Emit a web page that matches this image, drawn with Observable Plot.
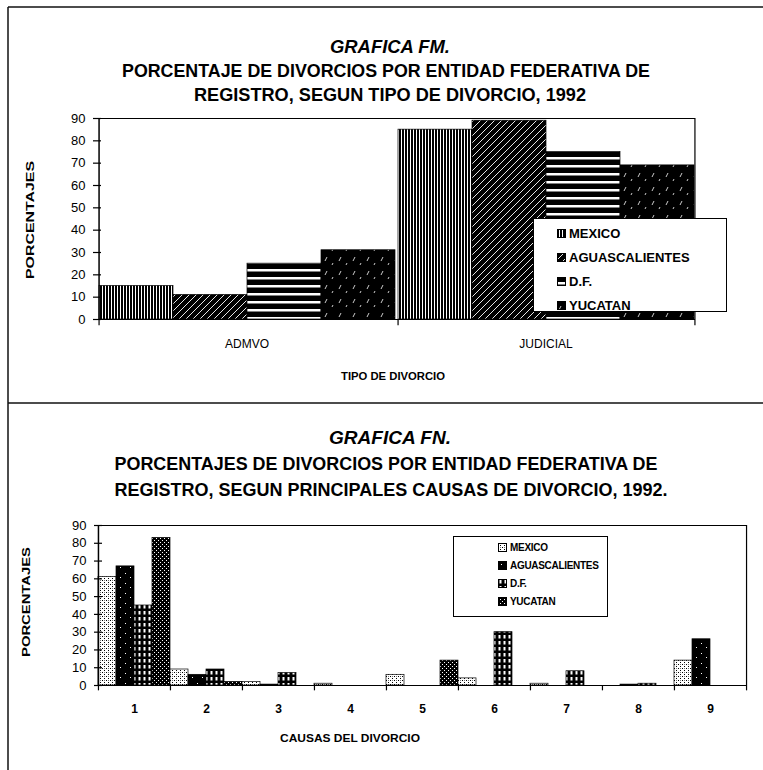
<!DOCTYPE html>
<html><head><meta charset="utf-8">
<script src="https://cdn.jsdelivr.net/npm/d3@7"></script>
<script src="https://cdn.jsdelivr.net/npm/@observablehq/plot@0.6"></script>
<style>
body{margin:0;background:#fff;}
#page{position:relative;width:763px;height:770px;overflow:hidden;background:#fff;}
.chart{position:absolute;left:0;}
.legend{position:absolute;background:#fff;border:1px solid #000;box-sizing:border-box;}
.legend .item{position:absolute;display:flex;align-items:center;font-weight:bold;white-space:nowrap;color:#000;}
.legend .item svg{margin-right:3px;flex:none;}
#overlay{position:absolute;left:0;top:0;pointer-events:none;}
</style></head><body><div id="page"></div>
<script>
// ---------------- DATA ----------------
const tipos = ["ADMVO", "JUDICIAL"];
const entidades = ["MEXICO", "AGUASCALIENTES", "D.F.", "YUCATAN"];
const admvo = [15, 11, 25, 31];
const judicial = [85, 89, 75, 69];
const causas = ["1", "2", "3", "4", "5", "6", "7", "8", "9"];
const mexico = [61, 9, 2, 1, 6, 4, 1, 0, 14];
const aguascalientes = [67, 6, 0.5, 0, 0, 0, 0, 0.5, 26];
const df = [45, 9, 7, 0, 0, 30, 8, 1, 0];
const yucatan = [83, 2, 0, 0, 14, 0, 0, 0, 0];
const yTicks = [0, 10, 20, 30, 40, 50, 60, 70, 80, 90];

const FONT = '"Liberation Sans Narrow","Arial Narrow","Liberation Sans",Arial,sans-serif';

const topData = tipos.flatMap((t, i) => entidades.map((e, j) => ({tipo: t, entidad: e, value: [admvo, judicial][i][j]})));
const bottomSeries = [mexico, aguascalientes, df, yucatan];
const bottomData = causas.flatMap((c, i) => entidades.map((e, j) => ({causa: c, entidad: e, value: bottomSeries[j][i]})));

// ---------------- PATTERNS ----------------
const defs = d3.select("body").append("svg").attr("width", 0).attr("height", 0)
  .style("position", "absolute").style("left", "0").style("top", "0").append("defs");
function pat(id, w, h, bg, draw) {
  const p = defs.append("pattern").attr("id", id).attr("patternUnits", "userSpaceOnUse").attr("width", w).attr("height", h);
  p.append("rect").attr("width", w).attr("height", h).attr("fill", bg);
  draw(p);
}
// top chart
pat("t-mex", 3, 10, "#fff", p => p.append("rect").attr("width", 2).attr("height", 10).attr("fill", "#000"));
pat("t-ags", 7, 7, "#000", p => p.append("path").attr("d", "M0,7L7,0M-1,1L1,-1M6,8L8,6").attr("stroke", "#fff").attr("stroke-width", 0.9));
pat("t-df", 10, 8, "#000", p => p.append("rect").attr("y", 5).attr("width", 10).attr("height", 2.5).attr("fill", "#fff"));
pat("t-yuc", 14, 14, "#000", p => p.append("path").attr("d", "M2,9L4,5M9,13L10,11").attr("stroke", "#fff").attr("stroke-width", 0.8));
// bottom chart
pat("b-mex", 4, 4, "#fff", p => { p.append("rect").attr("width", 1).attr("height", 1).attr("fill", "#000");
  p.append("rect").attr("x", 2).attr("y", 2).attr("width", 1).attr("height", 1).attr("fill", "#000");
  p.append("rect").attr("x", 2).attr("y", 0).attr("width", 1).attr("height", 1).attr("fill", "#777"); });
pat("b-ags", 10, 10, "#000", p => { p.append("rect").attr("x", 3).attr("y", 3).attr("width", 1).attr("height", 1).attr("fill", "#fff");
  p.append("rect").attr("x", 8).attr("y", 7).attr("width", 1).attr("height", 1).attr("fill", "#fff"); });
pat("b-df", 5, 6, "#000", p => p.append("rect").attr("x", 1.5).attr("y", 1).attr("width", 2).attr("height", 3.5).attr("fill", "#fff"));
pat("b-yuc", 4, 4, "#000", p => { p.append("rect").attr("width", 1).attr("height", 1).attr("fill", "#fff");
  p.append("rect").attr("x", 2).attr("y", 2).attr("width", 1).attr("height", 1).attr("fill", "#fff"); });

const topPatterns = ["url(#t-mex)", "url(#t-ags)", "url(#t-df)", "url(#t-yuc)"];
const botPatterns = ["url(#b-mex)", "url(#b-ags)", "url(#b-df)", "url(#b-yuc)"];

const page = document.getElementById("page");
const W = 763;

// ---------------- TOP CHART ----------------
const topML = 96, topMR = 68, topMT = 118, topMB = 81, topH = 400;
const topBW = (W - topML - topMR) / (tipos.length * entidades.length);
const topPlot = Plot.plot({
  width: W, height: topH,
  marginLeft: topML, marginRight: topMR, marginTop: topMT, marginBottom: topMB,
  style: {fontFamily: FONT, background: "transparent", overflow: "visible", color: "#000"},
  fx: {domain: tipos, padding: 0, axis: null},
  x: {domain: entidades, padding: 0, axis: null},
  y: {domain: [0, 90], axis: null},
  color: {type: "ordinal", domain: entidades, range: topPatterns},
  marks: [
    Plot.barY(topData, {fx: "tipo", x: "entidad", y: "value", fill: "entidad", stroke: "#000", strokeWidth: 0.7}),
    Plot.ruleY([0, 90], {stroke: "#000", strokeWidth: 1.2}),
    Plot.ruleX([tipos[0]], {fx: d => d, x: () => entidades[0], dx: -topBW / 2, y1: 0, y2: 90, strokeWidth: 1.5}),
    Plot.ruleX(tipos, {fx: d => d, x: () => entidades[0], dx: -topBW / 2, y1: -2.8, y2: 0, strokeWidth: 1.2}),
    Plot.ruleX([tipos[tipos.length - 1]], {fx: d => d, x: () => entidades[entidades.length - 1], dx: topBW / 2, y1: -2.8, y2: 90, strokeWidth: 1.2}),
    Plot.axisY(yTicks, {label: null, tickSize: 8, dx: 4, tickPadding: 8, fontSize: 13, strokeWidth: 1.2, tickFormat: d => String(d)}),
    Plot.text(tipos, {fx: d => d, text: d => d, frameAnchor: "bottom", dy: 28, fontSize: 12})
  ]
});
topPlot.classList.add("chart");
topPlot.style.top = "0px";
page.appendChild(topPlot);

// ---------------- BOTTOM CHART ----------------
const botTop = 400;
const botML = 96, botMR = 16, botMT = 125, botMB = 85, botH = 370;
const botBW = (W - botML - botMR) / (causas.length * entidades.length);
const botPlot = Plot.plot({
  width: W, height: botH,
  marginLeft: botML, marginRight: botMR, marginTop: botMT, marginBottom: botMB,
  style: {fontFamily: FONT, background: "transparent", overflow: "visible", color: "#000"},
  fx: {domain: causas, padding: 0, axis: null},
  x: {domain: entidades, padding: 0, axis: null},
  y: {domain: [0, 90], axis: null},
  color: {type: "ordinal", domain: entidades, range: botPatterns},
  marks: [
    Plot.barY(bottomData, {fx: "causa", x: "entidad", y: "value", fill: "entidad", stroke: "#000", strokeWidth: 0.7}),
    Plot.ruleY([0, 90], {stroke: "#000", strokeWidth: 1.2}),
    Plot.ruleX([causas[0]], {fx: d => d, x: () => entidades[0], dx: -botBW / 2, y1: 0, y2: 90, strokeWidth: 1.5}),
    Plot.ruleX(causas, {fx: d => d, x: () => entidades[0], dx: -botBW / 2, y1: -3, y2: 0, strokeWidth: 1.2}),
    Plot.ruleX([causas[causas.length - 1]], {fx: d => d, x: () => entidades[entidades.length - 1], dx: botBW / 2, y1: -3, y2: 90, strokeWidth: 1.2}),
    Plot.axisY(yTicks, {label: null, tickSize: 8, dx: 4, tickPadding: 8, fontSize: 13, strokeWidth: 1.2, tickFormat: d => String(d)}),
    Plot.text(causas, {fx: d => d, text: d => d, frameAnchor: "bottom", dy: 27, fontSize: 12, fontWeight: "bold"})
  ]
});
botPlot.classList.add("chart");
botPlot.style.top = botTop + "px";
page.appendChild(botPlot);

// ---------------- OVERLAY TEXT & FRAME ----------------
const ov = d3.select(page).append("svg").attr("id", "overlay").attr("width", W).attr("height", 770)
  .style("font-family", FONT);
function line(x1, y1, x2, y2, w) { ov.append("line").attr("x1", x1).attr("y1", y1).attr("x2", x2).attr("y2", y2).attr("stroke", "#111").attr("stroke-width", w); }
line(8, 7, 763, 7, 1.5);
line(8, 7, 8, 770, 1.5);
line(8, 403, 763, 403, 1.5);
function t(s, x, y, size, len, opts = {}) {
  const e = ov.append("text").attr("x", x).attr("y", y).attr("text-anchor", "middle").attr("dominant-baseline", "central")
    .attr("font-size", size).attr("font-weight", opts.weight || "bold").attr("fill", "#000").text(s);
  if (opts.italic) e.attr("font-style", "italic");
  if (len) e.attr("textLength", len).attr("lengthAdjust", "spacingAndGlyphs");
  if (opts.rotate) e.attr("transform", `rotate(-90 ${x} ${y})`);
  return e;
}
t("GRAFICA  FM.", 390, 47, 18, 120, {italic: true});
t("PORCENTAJE DE DIVORCIOS POR ENTIDAD FEDERATIVA DE", 386, 71, 18, 528);
t("REGISTRO, SEGUN TIPO DE DIVORCIO, 1992", 390, 95, 18, 392);
t("PORCENTAJES", 30, 220, 11, 118, {rotate: true});
t("TIPO DE DIVORCIO", 393, 376, 11, 104);

t("GRAFICA  FN.", 390, 438, 18, 122, {italic: true});
t("PORCENTAJES DE DIVORCIOS POR ENTIDAD FEDERATIVA DE", 386, 464, 18, 543);
t("REGISTRO, SEGUN PRINCIPALES CAUSAS DE DIVORCIO, 1992.", 391, 490, 18, 553);
t("PORCENTAJES", 26, 602, 11, 110, {rotate: true});
t("CAUSAS DEL DIVORCIO", 350, 738, 11, 140);

// ---------------- LEGENDS ----------------
function legend(box, patterns, opts) {
  const div = d3.select(page).append("div").attr("class", "legend")
    .style("left", box.x + "px").style("top", box.y + "px").style("width", box.w + "px").style("height", box.h + "px")
    .style("font-family", FONT).style("font-size", opts.fontSize + "px").style("letter-spacing", (opts.ls || 0) + "px");
  entidades.forEach((e, i) => {
    const it = div.append("div").attr("class", "item")
      .style("left", opts.left + "px").style("top", (opts.first + opts.step * i - 8) + "px").style("height", "16px");
    const s = it.append("svg").attr("width", 9).attr("height", 9);
    s.append("rect").attr("x", 0.5).attr("y", 0.5).attr("width", 8).attr("height", 8).attr("fill", patterns[i]).attr("stroke", "#000");
    it.append("span").text(e);
  });
}
legend({x: 533, y: 218, w: 194, h: 94}, topPatterns, {left: 23, first: 14, step: 24, fontSize: 13});
legend({x: 453, y: 536, w: 155, h: 81}, botPatterns, {left: 44, first: 10, step: 18, fontSize: 10, ls: -0.3});
</script></body></html>
